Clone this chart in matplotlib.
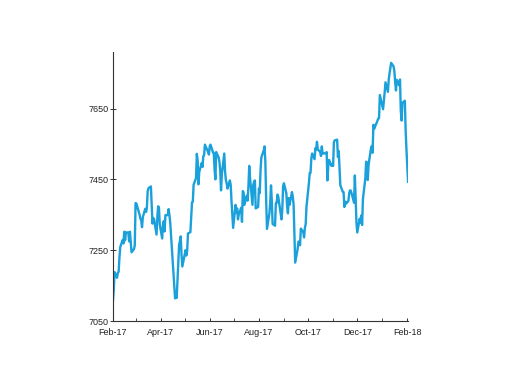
import matplotlib
matplotlib.use("Agg")
import matplotlib.pyplot as plt
import matplotlib.dates as mdates
import numpy as np

# trading days, as (year-month, list of days)
months = ["2017-02", "2017-03", "2017-04", "2017-05", "2017-06", "2017-07",
          "2017-08", "2017-09", "2017-10", "2017-11", "2017-12", "2018-01", "2018-02"]
days = [
    [1, 2, 3, 6, 7, 8, 9, 10, 13, 14, 15, 16, 17, 20, 21, 22, 23, 24, 27, 28],
    [1, 2, 3, 6, 7, 8, 9, 10, 13, 14, 15, 16, 17, 20, 21, 22, 23, 24, 27, 28, 29, 30, 31],
    [3, 4, 5, 6, 7, 10, 11, 12, 13, 18, 19, 20, 21, 24, 25, 26, 27, 28],
    [2, 3, 4, 5, 8, 9, 10, 11, 12, 15, 16, 17, 18, 19, 22, 23, 24, 25, 26, 30, 31],
    [1, 2, 5, 6, 7, 8, 9, 12, 13, 14, 15, 16, 19, 20, 21, 22, 23, 26, 27, 28, 29, 30],
    [3, 4, 5, 6, 7, 10, 11, 12, 13, 14, 17, 18, 19, 20, 21, 24, 25, 26, 27, 28, 31],
    [1, 2, 3, 4, 7, 8, 9, 10, 11, 14, 15, 16, 17, 18, 21, 22, 23, 24, 25, 29, 30, 31],
    [1, 4, 5, 6, 7, 8, 11, 12, 13, 14, 15, 18, 19, 20, 21, 22, 25, 26, 27, 28, 29],
    [2, 3, 4, 5, 6, 9, 10, 11, 12, 13, 16, 17, 18, 19, 20, 23, 24, 25, 26, 27, 30, 31],
    [1, 2, 3, 6, 7, 8, 9, 10, 13, 14, 15, 16, 17, 20, 21, 22, 23, 24, 27, 28, 29, 30],
    [1, 4, 5, 6, 7, 8, 11, 12, 13, 14, 15, 18, 19, 20, 21, 22, 27, 28, 29],
    [2, 3, 4, 5, 8, 9, 10, 11, 12, 15, 16, 17, 18, 19, 22, 23, 24, 25, 26, 29, 30, 31],
    [1, 2],
]
values = [
    [7108, 7141, 7188, 7172, 7186, 7189, 7230, 7259, 7279, 7269, 7302, 7278, 7300, 7300, 7275, 7302, 7271, 7244, 7253, 7263],
    [7383, 7382, 7374, 7350, 7339, 7334, 7315, 7343, 7367, 7358, 7369, 7416, 7425, 7430, 7378, 7325, 7341, 7337, 7294, 7343, 7374, 7370, 7323],
    [7283, 7322, 7332, 7303, 7349, 7349, 7366, 7349, 7328, 7148, 7114, 7119, 7115, 7265, 7276, 7289, 7237, 7204],
    [7250, 7235, 7248, 7297, 7301, 7342, 7385, 7387, 7435, 7454, 7522, 7503, 7436, 7471, 7496, 7485, 7515, 7518, 7548, 7527, 7520],
    [7544, 7548, 7526, 7525, 7478, 7450, 7527, 7512, 7500, 7474, 7419, 7464, 7523, 7473, 7448, 7439, 7424, 7447, 7434, 7388, 7350, 7313],
    [7378, 7357, 7368, 7337, 7351, 7370, 7330, 7417, 7413, 7378, 7404, 7390, 7431, 7488, 7453, 7378, 7435, 7443, 7447, 7368, 7372],
    [7424, 7411, 7475, 7512, 7532, 7543, 7498, 7390, 7310, 7354, 7384, 7433, 7388, 7324, 7319, 7382, 7383, 7407, 7401, 7337, 7365, 7431],
    [7439, 7411, 7373, 7354, 7397, 7378, 7414, 7401, 7380, 7295, 7215, 7253, 7274, 7275, 7264, 7311, 7301, 7286, 7313, 7323, 7373],
    [7439, 7468, 7468, 7508, 7523, 7507, 7538, 7534, 7556, 7535, 7527, 7516, 7543, 7523, 7523, 7524, 7527, 7447, 7487, 7505, 7488, 7493],
    [7488, 7555, 7560, 7562, 7513, 7530, 7484, 7433, 7415, 7414, 7372, 7387, 7381, 7389, 7411, 7419, 7418, 7410, 7384, 7461, 7394, 7327],
    [7300, 7339, 7328, 7348, 7321, 7394, 7453, 7500, 7497, 7448, 7491, 7537, 7544, 7525, 7604, 7593, 7621, 7623, 7688],
    [7648, 7671, 7696, 7724, 7697, 7731, 7749, 7763, 7779, 7769, 7756, 7725, 7701, 7731, 7715, 7732, 7643, 7616, 7666, 7672, 7588, 7534],
    [7490, 7443],
]

dates = np.array([np.datetime64(f"{m}-{d:02d}") for m, ds in zip(months, days) for d in ds])
closes = np.array([v for vs in values for v in vs])

plt.rcParams['font.family'] = ['Liberation Sans', 'DejaVu Sans']
fig = plt.figure(figsize=(5.12, 3.84), dpi=100)
ax = fig.add_axes([0.2207, 0.164, 0.5763, 0.701])

ax.plot(dates, closes, color="#1aa0da", linewidth=1.7)

ax.set_xlim(np.datetime64("2017-02-01"), np.datetime64("2018-02-02"))
ax.set_ylim(7050, 7810)
ax.set_yticks([7050, 7250, 7450, 7650])
ax.xaxis.set_major_locator(mdates.MonthLocator(bymonth=[2, 4, 6, 8, 10, 12]))
ax.xaxis.set_minor_locator(mdates.MonthLocator())
ax.xaxis.set_major_formatter(mdates.DateFormatter("%b-%y"))

for s in ["top", "right"]:
    ax.spines[s].set_visible(False)
for s in ["left", "bottom"]:
    ax.spines[s].set_linewidth(0.8)
    ax.spines[s].set_color("#333333")

ax.tick_params(axis="y", which="major", direction="inout", labelsize=6.5, length=4, width=0.7, pad=1, colors="#333333")
ax.tick_params(axis="x", which="major", direction="in", labelsize=6.5, length=2.5, width=0.7, pad=5, colors="#333333")
ax.tick_params(axis="x", which="minor", direction="in", length=2, width=0.6, colors="#333333")
for lab in ax.get_xticklabels() + ax.get_yticklabels():
    lab.set_color("#222222")

fig.savefig("out.png", dpi=100)
